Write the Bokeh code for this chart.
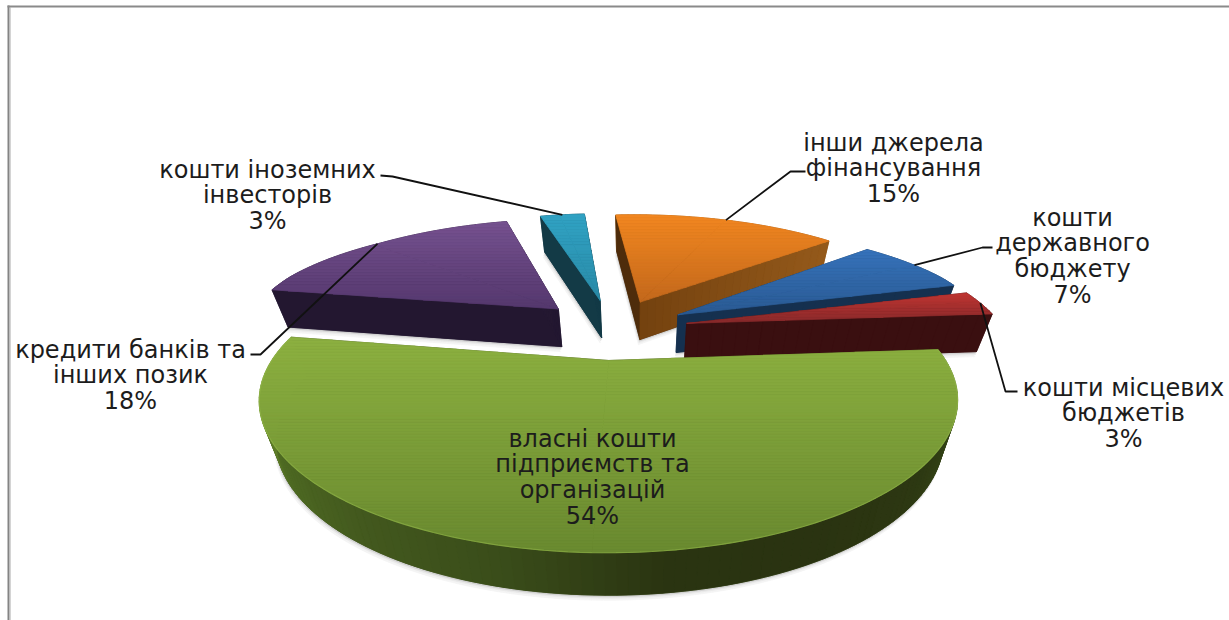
import math
from bokeh.plotting import figure
from bokeh.models import Range1d, ColumnDataSource
from bokeh.core.properties import value
from bokeh.embed import file_html
from bokeh.resources import INLINE

# ---- data (clockwise, starting near the top) ----
categories = ["інши джерела фінансування", "кошти державного бюджету", "кошти місцевих бюджетів",
              "власні кошти підприємств та організацій", "кредити банків та інших позик", "кошти іноземних інвесторів"]
shares = [15, 7, 3, 54, 18, 3]
label_lines = [["інши джерела", "фінансування"],
               ["кошти", "державного", "бюджету"],
               ["кошти місцевих", "бюджетів"],
               ["власні кошти", "підприємств та", "організацій"],
               ["кредити банків та", "інших позик"],
               ["кошти іноземних", "інвесторів"]]
label_x = [893, 1072, 1123, 592, 130, 267]
label_y = [142, 217, 387, 438, 349, 169]
elbows = [[(790, 171), (805, 171)], [(982, 247), (992, 247)], [(1005, 391), (1017, 391)],
          None, [(260, 354), (250, 354)], [(392, 176), (380, 175)]]

# ---- styling ----
top_cols = [("#f18620", "#c4691c"), ("#3672ba", "#2a5a93"), ("#bd3431", "#8a2a2b"),
            ("#8cb040", "#6a8a30"), ("#75518f", "#55386e"), ("#30a2c3", "#2a8ba8")]
start_wall = ["#4e2c0b", "#15304f", "#3a0f0f", "#3f521c", "#231730", "#133a46"]
end_wall = [("#74420f", "#955a1b"), ("#15304f", "#15304f"), ("#3a0f10", "#3a0f10"),
            ("#3f521c", "#3f521c"), ("#231730", "#261a35"), ("#133a46", "#133a46")]
rim_stops = ["#5f7e2a", "#6a8a2e", "#4e6a22", "#43591e", "#3a4d1a", "#2a3411", "#2a3311", "#2d3812", "#364718", "#3f5520"]
TEXT = "#1c1c1c"

# ---- projection of the pie plane ----
START = -4.5
EXPLODE = 0.24
D_NEAR = 0.247
D_FAR = 0.285
TOP = dict(cx=612, cy=328, f=317, g=125.5)
BOT = dict(cx=613, cy=366, f=303, g=128)


def proj(u, v, pl):
    ramp = min(1.0, max(0.0, (v - 0.45) / 0.4))
    d = 1 + (D_NEAR + (D_FAR - D_NEAR) * ramp) * v
    return pl["cx"] + pl["f"] * u / d, pl["cy"] - pl["g"] * v / d


def hex2(c):
    return [int(c[i:i + 2], 16) for i in (1, 3, 5)]


def mix(a, b, t):
    A, B = hex2(a), hex2(b)
    return "#%02x%02x%02x" % tuple(round(A[i] + (B[i] - A[i]) * t) for i in range(3))


def stops(cols, t):
    s = t * (len(cols) - 1)
    i = min(int(s), len(cols) - 2)
    return mix(cols[i], cols[i + 1], s - i)


def clip(poly, y0, y1):
    def cut(pts, keep, yc):
        out = []
        for i in range(len(pts)):
            a, b = pts[i], pts[(i + 1) % len(pts)]
            if keep(a[1]):
                out.append(a)
            if keep(a[1]) != keep(b[1]):
                t = (yc - a[1]) / (b[1] - a[1])
                out.append((a[0] + (b[0] - a[0]) * t, yc))
        return out
    p1 = cut(poly, lambda y: y >= y0, y0)
    return cut(p1, lambda y: y <= y1, y1) if p1 else []


p = figure(width=1229, height=620, x_range=Range1d(0, 1229), y_range=Range1d(620, 0),
           toolbar_location=None, output_backend="svg", x_axis_type=None, y_axis_type=None,
           min_border=0, outline_line_color=None, background_fill_color="#ffffff",
           border_fill_color="#ffffff")
p.grid.visible = False
p.styles = {"position": "absolute", "left": "0", "top": "0"}

# frame
p.line([8, 8], [5, 620], line_color="#848484", line_width=2)
p.line([9.6, 9.6], [7, 620], line_color="#b8b8b8", line_width=1)
p.line([7, 1229], [6, 6], line_color="#8a8a8a", line_width=2)

total = sum(shares)
angle = START
geo = []
for s in shares:
    a0, a1 = angle, angle + 360 * s / total
    geo.append((a0, a1))
    angle = a1

order = [5, 4, 0, 1, 2, 3]
for i in order:
    a0, a1 = geo[i]
    mid = math.radians((a0 + a1) / 2)
    ex, ey = EXPLODE * math.sin(mid), EXPLODE * math.cos(mid)
    n = max(6, int((a1 - a0) / 1.5))
    th = [math.radians(a0 + (a1 - a0) * k / n) for k in range(n + 1)]
    rim = [(ex + math.sin(t), ey + math.cos(t)) for t in th]
    top_rim = [proj(u, v, TOP) for u, v in rim]
    bot_rim = [proj(u, v, BOT) for u, v in rim]
    at, ab = proj(ex, ey, TOP), proj(ex, ey, BOT)
    xs, ys, cs = [], [], []

    def add(poly, col):
        xs.append([q[0] for q in poly])
        ys.append([q[1] for q in poly])
        cs.append(col)

    # soft shadow under the solid
    sil = [ab] + bot_rim
    if i != 3:
        sil_parts = [sil]
    else:
        sil_parts = [[ab] + bot_rim[:n // 2 + 1], [ab] + bot_rim[n // 2:]]
    for k, al in ((5, "#f4f4f4"), (3, "#e8e8e8"), (1.5, "#cfcfcf")):
        for part in sil_parts:
            add([(q[0] - k * 0.3, q[1] + k) for q in part], al)
    for part in sil_parts:
        add(part, start_wall[i])
    # outer wall
    for k in range(n):
        c = stops(rim_stops, 1 - k / n) if i == 3 else end_wall[i][1]
        add([top_rim[k], top_rim[k + 1], bot_rim[k + 1], bot_rim[k]], c)
    # cut walls
    add([at, top_rim[0], bot_rim[0], ab], start_wall[i])
    m = 24
    for k in range(m):
        t0, t1 = k / m, (k + 1) / m
        e0 = (at[0] + (top_rim[-1][0] - at[0]) * t0, at[1] + (top_rim[-1][1] - at[1]) * t0)
        e1 = (at[0] + (top_rim[-1][0] - at[0]) * t1, at[1] + (top_rim[-1][1] - at[1]) * t1)
        b0 = (ab[0] + (bot_rim[-1][0] - ab[0]) * t0, ab[1] + (bot_rim[-1][1] - ab[1]) * t0)
        b1 = (ab[0] + (bot_rim[-1][0] - ab[0]) * t1, ab[1] + (bot_rim[-1][1] - ab[1]) * t1)
        add([e0, e1, b1, b0], mix(end_wall[i][0], end_wall[i][1], t0))
    # top face with a vertical gradient; split in two so each half stays convex
    face = [at] + top_rim
    halves = [[at] + top_rim[:n // 2 + 1], [at] + top_rim[n // 2:]]
    ymin, ymax = min(q[1] for q in face), max(q[1] for q in face)
    bands = max(8, int((ymax - ymin) / 3))
    for k in range(bands):
        y0 = ymin + (ymax - ymin) * k / bands
        y1 = ymin + (ymax - ymin) * (k + 1) / bands
        for half in halves:
            poly = clip(half, y0, y1)
            if len(poly) >= 3:
                add(poly, mix(top_cols[i][0], top_cols[i][1], k / (bands - 1)))
    src = ColumnDataSource(dict(xs=xs, ys=ys, c=cs))
    p.patches("xs", "ys", source=src, fill_color="c", line_color="c", line_width=0.7,
              name=categories[i])
    if i == 3:
        p.line([q[0] for q in top_rim], [q[1] for q in top_rim], line_color="#93b84a",
               line_width=1.2, line_alpha=0.6)

# leaders
for i in range(len(shares)):
    if elbows[i] is None:
        continue
    a0, a1 = geo[i]
    mid = math.radians((a0 + a1) / 2)
    start = proj(EXPLODE * math.sin(mid) + math.sin(mid), EXPLODE * math.cos(mid) + math.cos(mid), TOP)
    pts = [start] + elbows[i]
    p.line([q[0] for q in pts], [q[1] for q in pts], line_color="#111111", line_width=1.8)

# labels
for i in range(len(shares)):
    lines = label_lines[i] + [f"{shares[i]}%"]
    for k, t in enumerate(lines):
        p.text([label_x[i]], [label_y[i] + k * 25.7], text=[t], text_align="center", text_baseline="middle",
               text_font=value("DejaVu Sans"), text_font_size="24px", text_color=TEXT)

open("out.html", "w").write(file_html(p, INLINE))
